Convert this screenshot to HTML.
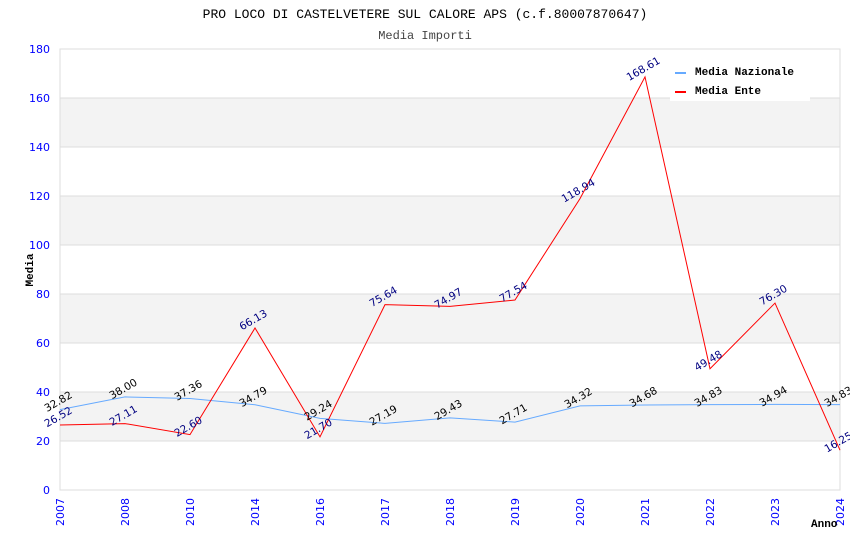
<!DOCTYPE html>
<html><head><meta charset="utf-8"><style>
body{margin:0;background:#fff;width:850px;height:550px;overflow:hidden}
svg text{font-family:"DejaVu Sans","Liberation Sans",sans-serif}
</style></head><body>
<svg id="c" width="850" height="550">
<text x="425" y="18" text-anchor="middle" font-size="13" style="font-family:'Liberation Mono',monospace">PRO LOCO DI CASTELVETERE SUL CALORE APS (c.f.80007870647)</text>
<text x="425" y="39" text-anchor="middle" font-size="12" fill="#444" style="font-family:'Liberation Mono',monospace">Media Importi</text>
<g id="bands"></g><g id="grid"></g>
<rect x="60" y="49" width="780" height="441" fill="none" stroke="#ddd"/>
<g id="yt"></g><g id="xt"></g><g id="lines"></g><g id="labels"></g>
<text x="33" y="270" transform="rotate(-90 33 270)" text-anchor="middle" font-size="11" font-weight="bold" style="font-family:'Liberation Mono',monospace">Media</text>
<text x="811" y="527" font-size="11" font-weight="bold" style="font-family:'Liberation Mono',monospace">Anno</text>
<g>
<rect x="670" y="57" width="140" height="44" fill="#fff"/>
<rect x="675" y="72" width="11" height="2" fill="#66aaff"/>
<text x="695" y="75" font-size="11" font-weight="bold" style="font-family:'Liberation Mono',monospace">Media Nazionale</text>
<rect x="675" y="91" width="11" height="2" fill="#ff0000"/>
<text x="695" y="94" font-size="11" font-weight="bold" style="font-family:'Liberation Mono',monospace">Media Ente</text>
</g>
</svg>
<script>
const categories=["2007","2008","2010","2014","2016","2017","2018","2019","2020","2021","2022","2023","2024"];
const nazionale=[32.82,38.00,37.36,34.79,29.24,27.19,29.43,27.71,34.32,34.68,34.83,34.94,34.83];
const ente=[26.52,27.11,22.60,66.13,21.70,75.64,74.97,77.54,118.94,168.61,49.48,76.30,16.25];
const yTicks=[0,20,40,60,80,100,120,140,160,180];
const NS="http://www.w3.org/2000/svg";
const x=i=>60+i*780/(categories.length-1);
const y=v=>490-v*441/180;
function mk(p,t,a){const e=document.createElementNS(NS,t);for(const k in a)e.setAttribute(k,a[k]);document.getElementById(p).appendChild(e);return e;}
for(let i=0;i<yTicks.length-1;i++){
 if(i%2==1){const r=mk('bands','rect',{x:60,y:y(yTicks[i+1]),width:780,height:y(yTicks[i])-y(yTicks[i+1]),fill:'#f3f3f3'});
 
 }
}
yTicks.forEach(v=>{
 const l=mk('grid','line',{x1:60,x2:840,y1:y(v),y2:y(v),stroke:'#ddd'});
 
 
 const t=mk('yt','text',{x:50,y:y(v)+4,'text-anchor':'end','font-size':11,fill:'#0000ff'});t.textContent=v;
 
 
});
categories.forEach((c,i)=>{
 const t=mk('xt','text',{x:x(i)+4,y:498,'text-anchor':'end','font-size':11,fill:'#0000ff',transform:`rotate(-90 ${x(i)+4} 498)`});t.textContent=c;
 
 
});
function series(d,col,lc,name){
 const p=mk('lines','polyline',{points:d.map((v,i)=>x(i)+','+y(v)).join(' '),fill:'none',stroke:col,'stroke-width':1});
 
 
 d.forEach((v,i)=>{
  const tx=x(i),ty=y(v)-5;
  const t=mk('labels','text',{x:tx,y:ty,'text-anchor':'middle','font-size':10.5,fill:lc,transform:`rotate(-30 ${tx} ${ty})`});
  t.textContent=v.toFixed(2);
  
  
 });
}
series(nazionale,'#66aaff','#000','nazionale');
series(ente,'#ff0000','#000080','ente');
</script>
</body></html>
